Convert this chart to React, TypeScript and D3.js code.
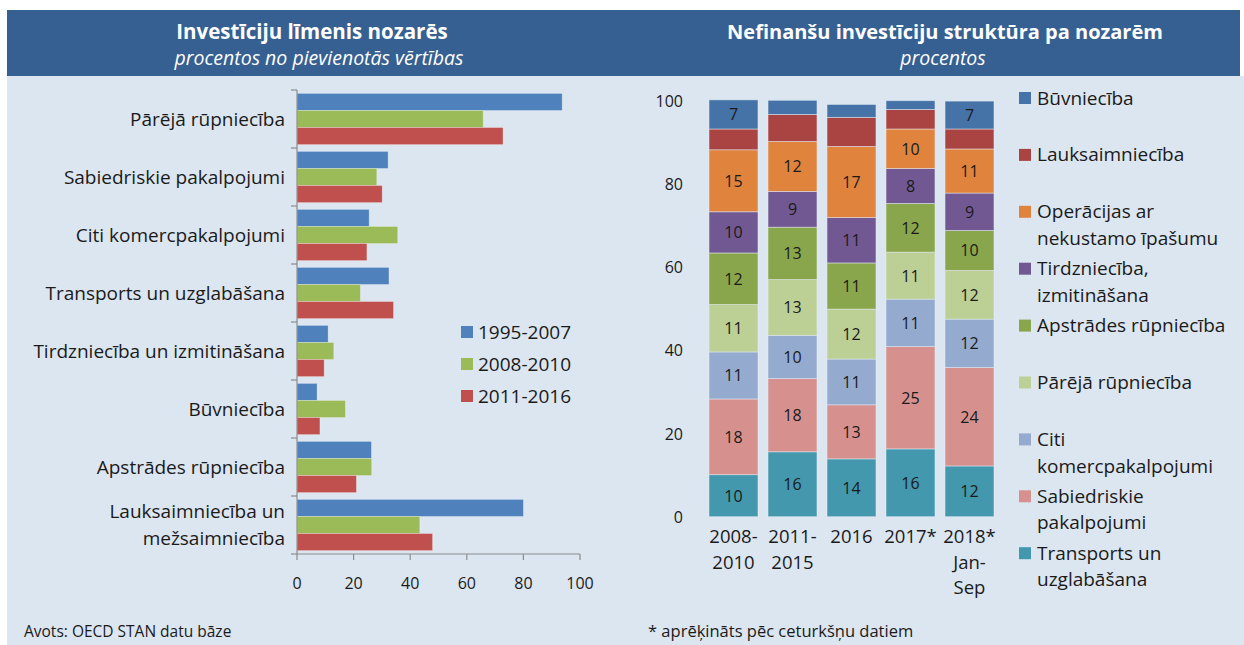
import React from 'react';
import * as d3 from 'd3';

// ---- left chart data (procentos no pievienotās vērtības) ----
const categories = [
  'Pārējā rūpniecība',
  'Sabiedriskie pakalpojumi',
  'Citi komercpakalpojumi',
  'Transports un uzglabāšana',
  'Tirdzniecība un izmitināšana',
  'Būvniecība',
  'Apstrādes rūpniecība',
  'Lauksaimniecība un mežsaimniecība'
];
const categoryLines = [
  ['Pārējā rūpniecība'],
  ['Sabiedriskie pakalpojumi'],
  ['Citi komercpakalpojumi'],
  ['Transports un uzglabāšana'],
  ['Tirdzniecība un izmitināšana'],
  ['Būvniecība'],
  ['Apstrādes rūpniecība'],
  ['Lauksaimniecība un', 'mežsaimniecība']
];
const periods = ['1995-2007', '2008-2010', '2011-2016'];
const values1995 = [93.7, 32.2, 25.5, 32.5, 11.0, 7.1, 26.3, 80.0];
const values2008 = [65.8, 28.2, 35.6, 22.4, 13.0, 17.1, 26.4, 43.4];
const values2011 = [72.8, 30.1, 24.7, 34.1, 9.6, 8.1, 21.0, 47.9];
const periodColors = ['#4f81bd', '#9bbb59', '#c0504d'];
const xTicks = [0, 20, 40, 60, 80, 100];

// ---- right chart data (procentos) ----
const columns = ['2008-2010', '2011-2015', '2016', '2017*', '2018* Jan-Sep'];
const columnLines = [['2008-', '2010'], ['2011-', '2015'], ['2016'], ['2017*'], ['2018*', 'Jan-', 'Sep']];
const transports = [10.1, 15.6, 13.9, 16.3, 12.2];
const sabiedriskie = [18.2, 17.6, 13.0, 24.6, 23.7];
const citi = [11.3, 10.4, 11.0, 11.4, 11.6];
const pareja = [11.4, 13.4, 12.0, 11.3, 11.7];
const apstrades = [12.4, 12.6, 11.1, 11.7, 9.6];
const tirdznieciba = [9.9, 8.6, 10.9, 8.4, 9.0];
const operacijas = [14.9, 12.0, 17.1, 9.5, 10.6];
const lauksaimnieciba = [5.0, 6.5, 7.0, 4.7, 4.8];
const buvnieciba = [7.0, 3.4, 3.1, 2.1, 6.7];
const yTicks = [0, 20, 40, 60, 80, 100];

// stack order: bottom to top
const sectors = [
  { key: 'transports', values: transports, color: '#4398ae', label: ['Transports un', 'uzglabāšana'] },
  { key: 'sabiedriskie', values: sabiedriskie, color: '#d6918f', label: ['Sabiedriskie', 'pakalpojumi'] },
  { key: 'citi', values: citi, color: '#94aacf', label: ['Citi', 'komercpakalpojumi'] },
  { key: 'pareja', values: pareja, color: '#bccf95', label: ['Pārējā rūpniecība'] },
  { key: 'apstrades', values: apstrades, color: '#8aa64c', label: ['Apstrādes rūpniecība'] },
  { key: 'tirdznieciba', values: tirdznieciba, color: '#725892', label: ['Tirdzniecība,', 'izmitināšana'] },
  { key: 'operacijas', values: operacijas, color: '#e0833d', label: ['Operācijas ar', 'nekustamo īpašumu'] },
  { key: 'lauksaimnieciba', values: lauksaimnieciba, color: '#a94442', label: ['Lauksaimniecība'], noLabel: true },
  { key: 'buvnieciba', values: buvnieciba, color: '#4673a7', label: ['Būvniecība'] }
];

const W = 1244;
const H = 645;
const FONT = '"Open Sans", Lato, sans-serif';
const TEXT = '#1a1a1a';
const AXIS = '#8c8c8c';

export default function App() {
  // left grouped bars
  const x = d3.scaleLinear().domain([0, 100]).range([297, 580]);
  const y0 = d3.scaleBand().domain(categories).range([90, 554]);
  const y1 = d3.scaleBand().domain(periods).range([0, y0.bandwidth()]).paddingOuter(0.2);
  const seriesL = [values1995, values2008, values2011];

  // right stacked bars
  const xs = d3.scaleBand().domain(columns).range([704, 999]).paddingInner(0.17).paddingOuter(0.085);
  const ys = d3.scaleLinear().domain([0, 100]).range([516.7, 100.7]);
  const rows = columns.map((c, i) => {
    const r: any = { col: c };
    sectors.forEach(s => { r[s.key] = s.values[i]; });
    return r;
  });
  const stacked = d3.stack().keys(sectors.map(s => s.key))(rows);

  return (
    <svg width={W} height={H} style={{ position: 'fixed', left: 0, top: 0, fontFamily: FONT }}>
      <rect x={0} y={0} width={W} height={H} fill='#ffffff' />
      <rect x={7} y={76} width={W - 7} height={H - 76} fill='#dce6f1' />
      <rect x={7} y={10} width={1233} height={66} fill='#366092' />

      {/* headers */}
      <text x={312} y={39} textAnchor='middle' fill='#fff' fontSize={20.5} fontWeight={700}>Investīciju līmenis nozarēs</text>
      <text x={319} y={65} textAnchor='middle' fill='#fff' fontSize={19.5} fontStyle='italic'>procentos no pievienotās vērtības</text>
      <text x={945} y={39} textAnchor='middle' fill='#fff' fontSize={20} fontWeight={700}>Nefinanšu investīciju struktūra pa nozarēm</text>
      <text x={943} y={65} textAnchor='middle' fill='#fff' fontSize={19.5} fontStyle='italic'>procentos</text>

      {/* left chart bars */}
      {categories.map((c, ci) => (
        <g key={c} transform={`translate(0,${y0(c)})`}>
          {periods.map((p, pi) => (
            <rect key={p} x={x(0)} y={y1(p)} width={x(seriesL[pi][ci]) - x(0)} height={y1.bandwidth()}
              fill={periodColors[pi]} stroke='#ffffff' strokeOpacity={0.35} strokeWidth={0.8} />
          ))}
        </g>
      ))}

      {/* left axes */}
      <g stroke={AXIS} strokeWidth={1.2} fill='none'>
        <line x1={x(0)} x2={x(0)} y1={y0.range()[0]} y2={y0.range()[1]} />
        <line x1={x(0)} x2={x(100)} y1={y0.range()[1]} y2={y0.range()[1]} />
        {categories.map(c => (
          <line key={c} x1={x(0) - 6} x2={x(0)} y1={y0(c)} y2={y0(c)} />
        ))}
        <line x1={x(0) - 6} x2={x(0)} y1={y0.range()[1]} y2={y0.range()[1]} />
        {xTicks.map(t => (
          <line key={t} x1={x(t)} x2={x(t)} y1={y0.range()[1]} y2={y0.range()[1] + 6} />
        ))}
      </g>
      {xTicks.map(t => (
        <text key={t} x={x(t)} y={589} textAnchor='middle' fontSize={16} fill={TEXT}>{t}</text>
      ))}
      {categories.map((c, ci) => {
        const lines = categoryLines[ci];
        const cy = y0(c)! + y0.bandwidth() / 2;
        return (
          <text key={c} x={285} textAnchor='end' fontSize={19} fill={TEXT}>
            {lines.map((l, li) => (
              <tspan key={li} x={285} y={cy + 6.5 + (li - (lines.length - 1) / 2) * 27}>{l}</tspan>
            ))}
          </text>
        );
      })}

      {/* left legend */}
      {periods.map((p, pi) => (
        <g key={p} transform={`translate(461,${332 + pi * 32})`}>
          <rect x={0} y={-6} width={12} height={12} fill={periodColors[pi]} />
          <text x={17} y={6.5} fontSize={19} fill={TEXT}>{p}</text>
        </g>
      ))}

      {/* right chart */}
      {yTicks.map(t => (
        <text key={t} x={683} y={ys(t) + 6} textAnchor='end' fontSize={16} fill={TEXT}>{t}</text>
      ))}
      {stacked.map((layer, li) => (
        <g key={layer.key}>
          {layer.map((d, i) => (
            <rect key={i} x={xs(columns[i])} y={ys(d[1])} width={xs.bandwidth()} height={ys(d[0]) - ys(d[1])}
              fill={sectors[li].color} stroke='#e8eef6' strokeOpacity={0.6} strokeWidth={0.8} />
          ))}
          {layer.map((d, i) => {
            const v = sectors[li].values[i];
            if (sectors[li].noLabel || v < 6.5) return null;
            return (
              <text key={'t' + i} x={xs(columns[i])! + xs.bandwidth() / 2} y={ys((d[0] + d[1]) / 2) + 6}
                textAnchor='middle' fontSize={16} fill={TEXT}>{Math.round(v)}</text>
            );
          })}
        </g>
      ))}
      {columns.map((c, i) => (
        <text key={c} textAnchor='middle' fontSize={18.5} fill={TEXT}>
          {columnLines[i].map((l, li) => (
            <tspan key={li} x={xs(c)! + xs.bandwidth() / 2} y={543 + li * 25.6}>{l}</tspan>
          ))}
        </text>
      ))}

      {/* right legend (top to bottom = reverse of stack) */}
      {sectors.slice().reverse().map((s, i) => (
        <g key={s.key} transform={`translate(1019,${98 + i * 56.9})`}>
          <rect x={0} y={-6} width={12} height={12} fill={s.color} />
          <text fontSize={19} fill={TEXT}>
            {s.label.map((l, li) => (
              <tspan key={li} x={18} y={6.5 + li * 26.7}>{l}</tspan>
            ))}
          </text>
        </g>
      ))}

      {/* footer */}
      <text x={24} y={637} fontSize={15.5} fill={TEXT}>Avots: OECD STAN datu bāze</text>
      <text x={648} y={637} fontSize={16.5} fill={TEXT}>* aprēķināts pēc ceturkšņu datiem</text>
    </svg>
  );
}
